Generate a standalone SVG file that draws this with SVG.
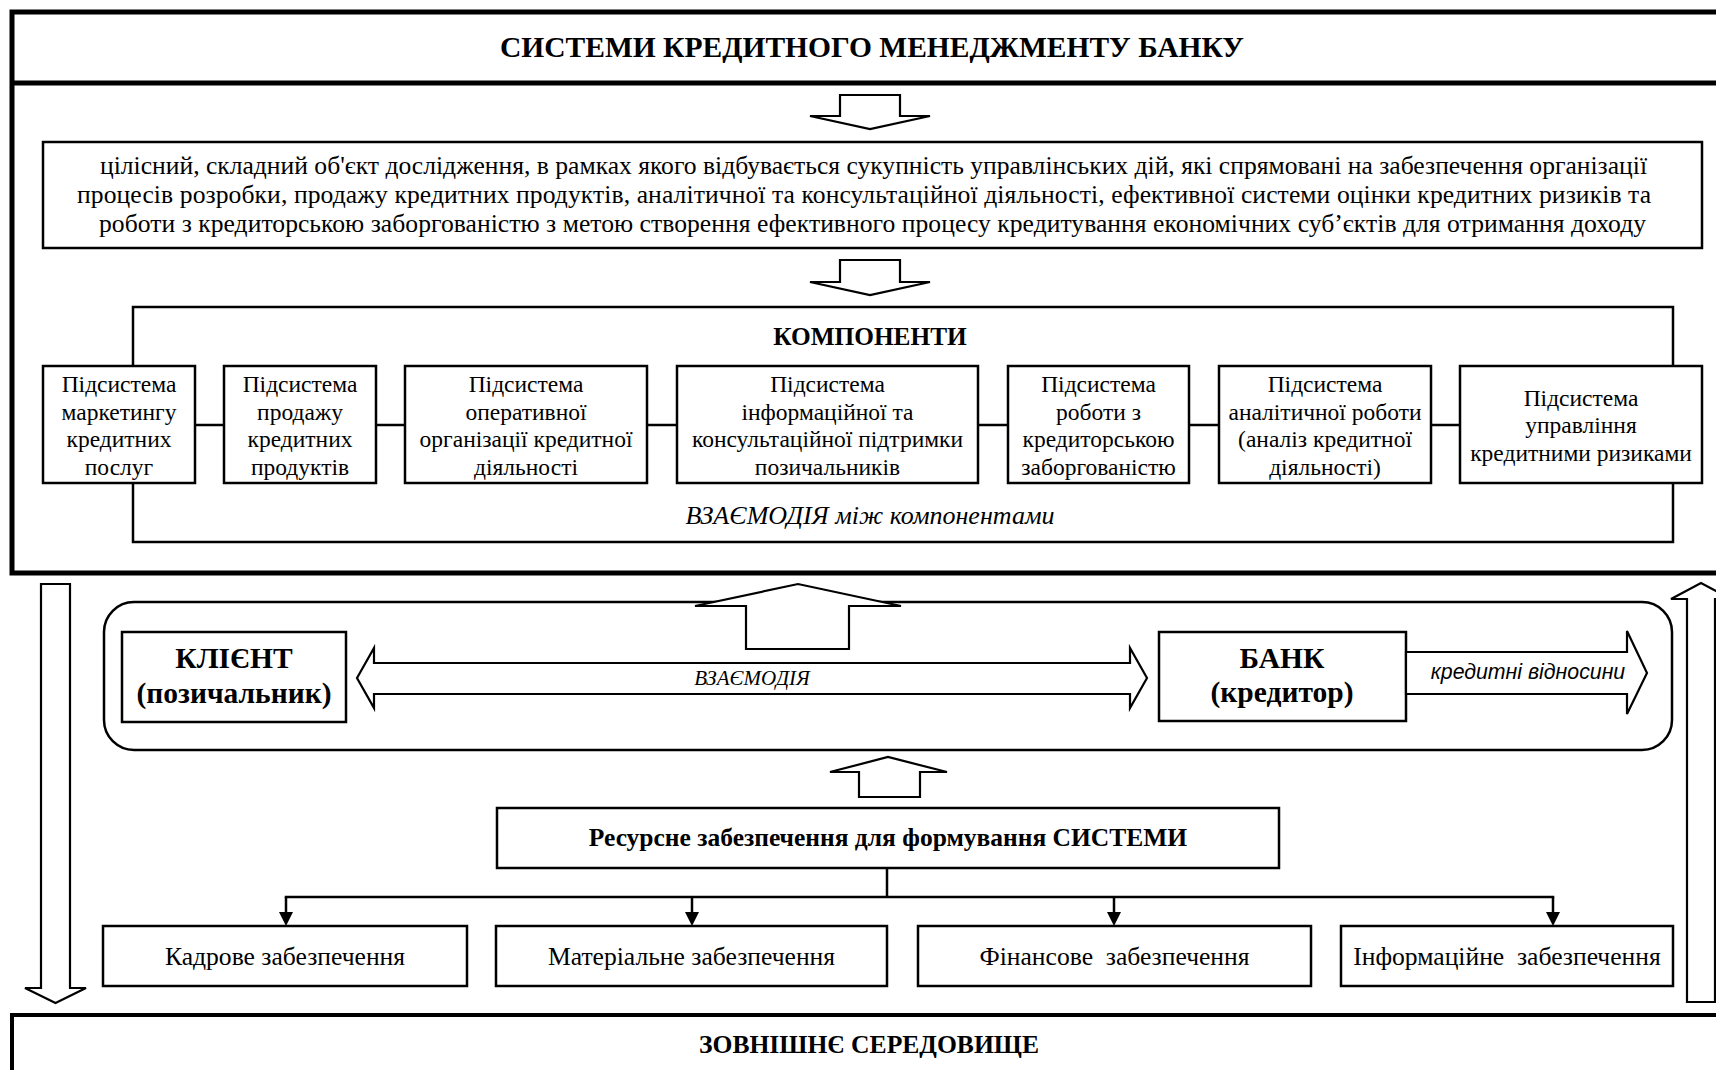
<svg xmlns="http://www.w3.org/2000/svg" width="1716" height="1070" viewBox="0 0 1716 1070">
<style>
.s{font-family:"Liberation Serif","Times New Roman",serif;fill:#000}
.b{font-weight:bold}
.i{font-style:italic}
.a{font-family:"Liberation Sans",Arial,sans-serif;font-style:italic;fill:#000}
.c{text-anchor:middle}
.box{fill:#fff;stroke:#000;stroke-width:2.5}
.frame{fill:none;stroke:#000;stroke-width:2.5}
.arr{fill:#fff;stroke:#000;stroke-width:2.2;stroke-linejoin:miter}
.ln{fill:none;stroke:#000;stroke-width:2.5}
.sub{font-size:23.5px}
.body{font-size:25.6px}
</style>
<defs>
<marker id="ah" markerWidth="14" markerHeight="14" refX="0" refY="7" orient="auto" markerUnits="userSpaceOnUse" viewBox="0 0 14 14">
<path d="M0,0 L14,7 L0,14 Z" fill="#000"/>
</marker>
</defs>

<g id="frame-system">
<rect x="12" y="12" width="1730" height="561" fill="#fff" stroke="#000" stroke-width="5"/>
<line x1="12" y1="83" x2="1716" y2="83" stroke="#000" stroke-width="5"/>
<text class="s b c" x="872" y="57" font-size="29.5">СИСТЕМИ КРЕДИТНОГО МЕНЕДЖМЕНТУ БАНКУ</text>
</g>

<g id="frame-environment">
<rect x="12" y="1015" width="1730" height="100" fill="#fff" stroke="#000" stroke-width="4"/>
<text class="s b c" x="869" y="1053" font-size="25.6">ЗОВНІШНЄ СЕРЕДОВИЩЕ</text>
</g>

<g id="definition">
<rect class="box" x="43" y="142" width="1659" height="106"/>
<text class="s body" x="100" y="174" textLength="1547" lengthAdjust="spacing">цілісний, складний об'єкт дослідження, в рамках якого відбувається сукупність управлінських дій, які спрямовані на забезпечення організації</text>
<text class="s body" x="77" y="203" textLength="1574" lengthAdjust="spacing">процесів розробки, продажу кредитних продуктів, аналітичної та консультаційної діяльності, ефективної системи оцінки кредитних ризиків та</text>
<text class="s body" x="99" y="232" textLength="1547" lengthAdjust="spacing">роботи з кредиторською заборгованістю з метою створення ефективного процесу кредитування економічних суб’єктів для отримання доходу</text>
</g>

<g id="components">
<rect class="frame" x="133" y="307" width="1540" height="235"/>
<text class="s b c" x="870" y="345" font-size="25.3">КОМПОНЕНТИ</text>
<text class="s i c" x="870" y="524" font-size="26">ВЗАЄМОДІЯ між компонентами</text>
</g>

<g id="sub-marketing">
<rect class="box" x="43" y="366" width="152" height="117"/>
<text class="s sub c"><tspan x="119" y="392">Підсистема</tspan><tspan x="119" y="419.5">маркетингу</tspan><tspan x="119" y="447">кредитних</tspan><tspan x="119" y="474.5">послуг</tspan></text>
</g>
<g id="sub-sales">
<rect class="box" x="224" y="366" width="152" height="117"/>
<text class="s sub c"><tspan x="300" y="392">Підсистема</tspan><tspan x="300" y="419.5">продажу</tspan><tspan x="300" y="447">кредитних</tspan><tspan x="300" y="474.5">продуктів</tspan></text>
</g>
<g id="sub-operational">
<rect class="box" x="405" y="366" width="242" height="117"/>
<text class="s sub c"><tspan x="526" y="392">Підсистема</tspan><tspan x="526" y="419.5">оперативної</tspan><tspan x="526" y="447">організації кредитної</tspan><tspan x="526" y="474.5">діяльності</tspan></text>
</g>
<g id="sub-info">
<rect class="box" x="677" y="366" width="301" height="117"/>
<text class="s sub c"><tspan x="827.5" y="392">Підсистема</tspan><tspan x="827.5" y="419.5">інформаційної та</tspan><tspan x="827.5" y="447">консультаційної підтримки</tspan><tspan x="827.5" y="474.5">позичальників</tspan></text>
</g>
<g id="sub-debt">
<rect class="box" x="1008" y="366" width="181" height="117"/>
<text class="s sub c"><tspan x="1098.5" y="392">Підсистема</tspan><tspan x="1098.5" y="419.5">роботи з</tspan><tspan x="1098.5" y="447">кредиторською</tspan><tspan x="1098.5" y="474.5">заборгованістю</tspan></text>
</g>
<g id="sub-analytics">
<rect class="box" x="1219" y="366" width="212" height="117"/>
<text class="s sub c"><tspan x="1325" y="392">Підсистема</tspan><tspan x="1325" y="419.5">аналітичної роботи</tspan><tspan x="1325" y="447">(аналіз кредитної</tspan><tspan x="1325" y="474.5">діяльності)</tspan></text>
</g>
<g id="sub-risk">
<rect class="box" x="1460" y="366" width="242" height="117"/>
<text class="s sub c"><tspan x="1581" y="405.5">Підсистема</tspan><tspan x="1581" y="433">управління</tspan><tspan x="1581" y="460.5">кредитними ризиками</tspan></text>
</g>

<g id="relations">
<rect class="frame" x="104" y="602" width="1568" height="148" rx="30"/>
</g>

<g id="client">
<rect class="box" x="122" y="632" width="224" height="90"/>
<text class="s b c" x="234" y="668" font-size="29.5">КЛІЄНТ</text>
<text class="s b c" x="234" y="703" font-size="29.5">(позичальник)</text>
</g>
<g id="bank">
<rect class="box" x="1159" y="632" width="247" height="89"/>
<text class="s b c" x="1282" y="668" font-size="29.5">БАНК</text>
<text class="s b c" x="1282" y="702" font-size="29.5">(кредитор)</text>
</g>

<g id="resources">
<rect class="box" x="497" y="808" width="782" height="60"/>
<text class="s b c" x="888" y="846" font-size="25.5">Ресурсне забезпечення для формування СИСТЕМИ</text>
</g>
<g id="res-staff">
<rect class="box" x="103" y="926" width="364" height="60"/>
<text class="s body c" x="285" y="965">Кадрове забезпечення</text>
</g>
<g id="res-material">
<rect class="box" x="496" y="926" width="391" height="60"/>
<text class="s body c" x="691.5" y="965">Матеріальне забезпечення</text>
</g>
<g id="res-financial">
<rect class="box" x="918" y="926" width="393" height="60"/>
<text class="s body c" x="1114.5" y="965" xml:space="preserve">Фінансове  забезпечення</text>
</g>
<g id="res-info">
<rect class="box" x="1341" y="926" width="332" height="60"/>
<text class="s body c" x="1507" y="965" xml:space="preserve">Інформаційне  забезпечення</text>
</g>

<g id="connectors">
<line class="ln" x1="195" y1="425" x2="224" y2="425" stroke-width="3"/>
<line class="ln" x1="376" y1="425" x2="405" y2="425" stroke-width="3"/>
<line class="ln" x1="647" y1="425" x2="677" y2="425" stroke-width="3"/>
<line class="ln" x1="978" y1="425" x2="1008" y2="425" stroke-width="3"/>
<line class="ln" x1="1189" y1="425" x2="1219" y2="425" stroke-width="3"/>
<line class="ln" x1="1431" y1="425" x2="1460" y2="425" stroke-width="3"/>
<line class="ln" x1="887" y1="868" x2="887" y2="897"/>
<line class="ln" x1="286" y1="897" x2="1553" y2="897" stroke-linecap="square"/>
<line class="ln" x1="286" y1="897" x2="286" y2="912" marker-end="url(#ah)"/>
<line class="ln" x1="692" y1="897" x2="692" y2="912" marker-end="url(#ah)"/>
<line class="ln" x1="1114" y1="897" x2="1114" y2="912" marker-end="url(#ah)"/>
<line class="ln" x1="1553" y1="897" x2="1553" y2="912" marker-end="url(#ah)"/>
<polygon class="arr" points="840,95 900,95 900,116 930,116 870,129 810,116 840,116"/>
<polygon class="arr" points="840,260 900,260 900,282 930,282 870,295 810,282 840,282"/>
<polygon class="arr" points="746,649 746,606 695,606 798,584 901,606 849,606 849,649"/>
<polygon class="arr" points="859,797 859,772 830,772 888,757 947,772 920,772 920,797"/>
<polygon class="arr" points="41,584 70,584 70,988 86,988 55.5,1003 25,988 41,988"/>
<polygon class="arr" points="1687,1002 1687,599 1671,599 1701,583 1731,599 1715,599 1715,1002"/>
<polygon class="arr" points="357,678 374,648 374,663 1130,663 1130,648 1147,678 1130,708 1130,694 374,694 374,708"/>
<text class="s i c" x="752" y="685" font-size="21">ВЗАЄМОДІЯ</text>
<polygon class="arr" points="1406,652 1627,652 1627,631 1647,673 1627,714 1627,694 1406,694"/>
<text class="a c" x="1528" y="679" font-size="21.3">кредитні відносини</text>
</g>
</svg>
